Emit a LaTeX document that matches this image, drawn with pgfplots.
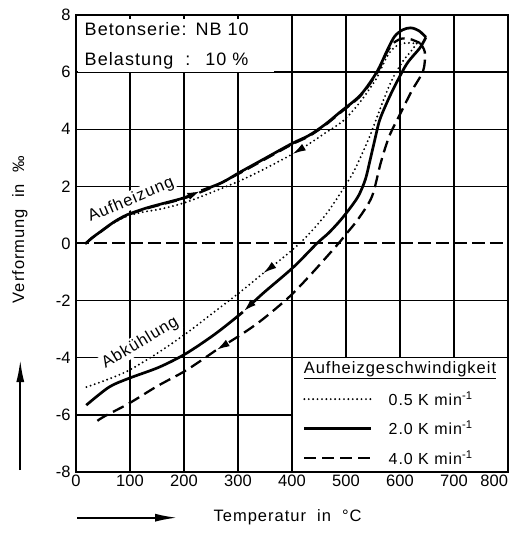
\documentclass[border=0pt]{standalone}
\usepackage{pgfplots}
\pgfplotsset{compat=1.18}
\usepackage{fontspec}
\setmainfont{Liberation Sans}[LetterSpace=6]
\newfontfamily\tickfont{Liberation Sans}
\usetikzlibrary{arrows.meta}
\tikzset{
  c05/.style={line width=2.1pt, dash pattern=on 0pt off 4.4pt, line cap=round},
  c20/.style={line width=2.7pt},
  c40/.style={line width=2.3pt, dash pattern=on 12pt off 6pt},
  tip/.style={-{Latex[length=14pt,width=7.5pt]}},
  rtip/.style={{Latex[length=14pt,width=7.5pt]}-},
}
\begin{document}
\begin{tikzpicture}
\begin{axis}[
  scale only axis, width=432pt, height=457pt,
  xmin=0, xmax=800, ymin=-8, ymax=8,
  xtick={0,100,...,800},
  xticklabels={0,100,200,300,400,500,600,700,\llap{800}},
  ytick={-8,-6,...,8},
  extra y ticks={-6,-4,-2,2,4,6},
  extra y tick labels={},
  extra y tick style={grid=major},
  xmajorgrids=true,
  major tick length=0pt,
  grid style={line width=1.3pt, black},
  axis line style={line width=2pt},
  /pgf/number format/assume math mode=true,
  tick label style={font=\tickfont\fontsize{16.5}{18}\selectfont},
  xticklabel style={yshift=1pt},
  yticklabel style={xshift=-2pt},
  clip=false,
  every axis y label/.style={at={(rel axis cs:-0.13,0.53)}, rotate=90, anchor=center},
  every axis x label/.style={at={(rel axis cs:0.49,-0.098)}, anchor=center},
  ylabel={Verformung~ in~ ‰},
  xlabel={Temperatur~ in~ °C},
  label style={font=\fontsize{16.5}{18}\selectfont},
  legend style={at={(axis cs:420,-5.1)}, anchor=north west, draw=none, fill=none,
    row sep=10pt, inner sep=0pt, font=\fontsize{16}{18}\selectfont,
    /tikz/every odd column/.append style={column sep=14pt}},
  legend image code/.code={\draw[#1] (0pt,0pt) -- (67pt,0pt);},
  legend cell align=left,
]
% zero line
\addplot[forget plot, line width=2pt, dash pattern=on 13pt off 5pt] coordinates {(0,0) (800,0)};

% 0.5 K/min (dotted)
\addplot[c05, smooth, forget plot] coordinates {(18,0) (30,0.2) (45,0.41) (70,0.72) (94,0.95) (124,1.1) (155,1.2) (200,1.42) (250,1.78) (304,2.2) (350,2.62) (400,3.12)};
\addplot[c05, rtip, smooth, forget plot] coordinates {(400,3.12) (431,3.48) (460,3.85) (495,4.3) (526,4.95) (557,5.8) (576,6.55) (592,6.9) (610,7.02) (631,7.0)};
\addplot[c05, tip, smooth, forget plot] coordinates {(631,7.0) (620,6.72) (606,6.4) (587,5.8) (571,5.1) (558,4.45) (545,3.8) (530,3.15) (513,2.47) (490,1.77) (465,1.07) (439,0.49) (414,0) (380,-0.55) (346,-1.05)};
\addplot[c05, smooth, forget plot] coordinates {(346,-1.05) (304,-1.7) (242,-2.6) (204,-3.15) (150,-3.85) (98,-4.44) (60,-4.75) (19,-5.03)};

% 4.0 K/min (dashed)
\addplot[c40, smooth, forget plot] coordinates {(18,0) (30,0.2) (45,0.4) (70,0.74) (94,0.98) (130,1.22) (165,1.4) (200,1.58) (250,1.95) (304,2.47) (350,2.95) (400,3.47) (431,3.75) (460,4.12) (489,4.57) (527,5.17) (557,5.95) (576,6.7) (590,7.05) (605,7.18) (620,7.15) (637,7.02)};
\addplot[c40, tip, smooth, forget plot] coordinates {(637,7.02) (646,6.7) (643,6.05) (622,5.35) (602,4.6) (580,3.75) (564,2.8) (548,1.64) (522,0.84) (497,0.26) (486,0) (439,-1.0) (396,-1.85) (346,-2.65) (309,-3.15) (259,-3.74)};
\addplot[c40, smooth, forget plot] coordinates {(259,-3.74) (204,-4.44) (150,-5.0) (98,-5.6) (50,-6.08) (31,-6.33)};

% 2.0 K/min (solid)
\addplot[c20, tip, smooth, forget plot] coordinates {(18,0) (30,0.2) (45,0.41) (70,0.75) (94,1.0) (130,1.24) (165,1.42) (200,1.6) (232,1.85)};
\addplot[c20, smooth, forget plot] coordinates {(232,1.85) (270,2.13) (304,2.5) (350,2.98) (400,3.5) (431,3.78) (460,4.15) (489,4.6) (527,5.2) (557,6.0) (576,6.75) (590,7.25) (605,7.48) (620,7.55) (635,7.45) (648,7.22)};
\addplot[c20, tip, smooth, forget plot] coordinates {(648,7.22) (637,6.85) (613,6.3) (590,5.5) (575,4.9) (562,4.3) (553,3.6) (545,2.95) (536,2.25) (524,1.7) (510,1.3) (490,0.82) (468,0.37) (446,0) (402,-0.84) (346,-1.75) (309,-2.4)};
\addplot[c20, smooth, forget plot] coordinates {(309,-2.4) (259,-3.15) (204,-3.85) (154,-4.33) (98,-4.72) (61,-5.03) (19,-5.66)};

% legend box
\fill[white] ([xshift=0.7pt,yshift=1pt]axis cs:400,-8) rectangle ([xshift=-1pt,yshift=-0.7pt]axis cs:800,-4);
\node[font=\fontsize{16.5}{18}\selectfont] at (axis cs:600,-4.45) {\underline{Aufheizgeschwindigkeit}};
\addlegendimage{c05}
\addlegendentry{0.5 K min\textsuperscript{\tickfont -1}}
\addlegendimage{c20}
\addlegendentry{2.0 K min\textsuperscript{\tickfont -1}}
\addlegendimage{c40}
\addlegendentry{4.0 K min\textsuperscript{\tickfont -1}}

% text
\node[fill=white, anchor=north west, align=left, text width=182pt, inner xsep=7pt, inner ysep=3pt,
  font=\fontsize{18}{30}\selectfont] at ([xshift=1.5pt]axis cs:0,7.85) {Betonserie: NB 10\\Belastung~ :~ 10 \%};
\node[fill=white, inner sep=1.5pt, rotate=23, font=\fontsize{16.5}{18}\selectfont] at (axis cs:102,1.52) {Aufheizung};
\node[fill=white, inner sep=1.5pt, rotate=31, font=\fontsize{16.5}{18}\selectfont] at (axis cs:119,-3.48) {Abkühlung};

% direction arrows
\draw[line width=1.8pt, -{Latex[length=22pt,width=8pt]}] (rel axis cs:-0.129,0.004) -- (rel axis cs:-0.129,0.245);
\draw[line width=1.8pt, -{Latex[length=22pt,width=8pt]}] (rel axis cs:0.003,-0.1) -- (rel axis cs:0.234,-0.1);
\end{axis}
\pgfresetboundingbox
\path ([shift={(-76pt,-61pt)}]current axis.south west) rectangle ([shift={(3pt,15pt)}]current axis.north east);
\end{tikzpicture}
\end{document}
